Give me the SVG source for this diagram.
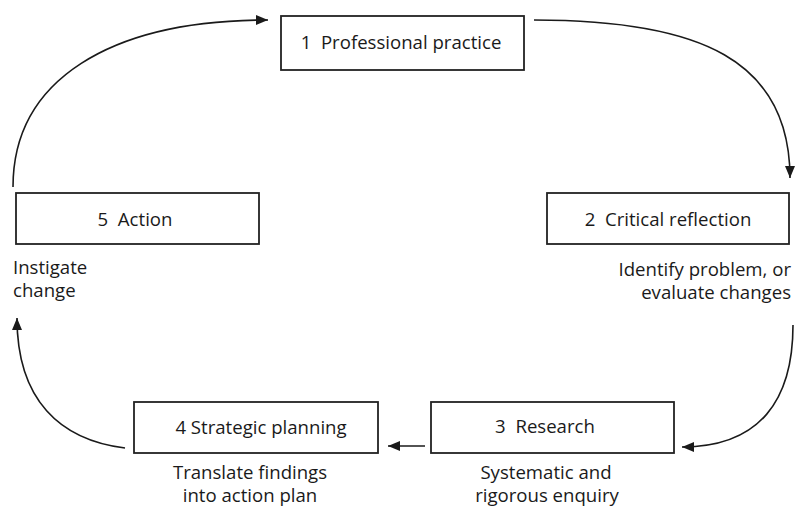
<svg xmlns="http://www.w3.org/2000/svg" width="795" height="508" viewBox="0 0 795 508">
<style>
.box{fill:#fff;stroke:#222;stroke-width:1.8}
.t{font-family:"Open Sans","Liberation Sans",sans-serif;font-size:18.6px;fill:#1a1a1a;white-space:pre}
.c{text-anchor:middle}
.r{text-anchor:end}
.conn{fill:none;stroke:#1a1a1a;stroke-width:1.6}
</style>
<defs>
<marker id="ah" viewBox="0 0 12 10" refX="12" refY="5" markerUnits="userSpaceOnUse" markerWidth="13" markerHeight="10" orient="auto">
<path d="M0,0 L12,5 L0,10 Z" fill="#1a1a1a"/>
</marker>
</defs>
<rect width="795" height="508" fill="#fff"/>
<g id="connectors">
<path class="conn" d="M13,187 C13,80 110,20 268,20" marker-end="url(#ah)"/>
<path class="conn" d="M534,20 C700,20 790,60 790,178" marker-end="url(#ah)"/>
<path class="conn" d="M793,325 C793,400 760,447 682,447" marker-end="url(#ah)"/>
<path class="conn" d="M425,446 L388,446" marker-end="url(#ah)"/>
<path class="conn" d="M125,448 C60,440 17,400 17,318" marker-end="url(#ah)"/>
</g>
<g id="node1">
<rect class="box" x="281" y="16" width="243" height="54"/>
<text class="t c" x="401" y="49" xml:space="preserve">1  Professional practice</text>
</g>
<g id="node2">
<rect class="box" x="547" y="193" width="242" height="51"/>
<text class="t c" x="668" y="226" xml:space="preserve">2  Critical reflection</text>
<text class="t r" x="791" y="276">Identify problem, or</text>
<text class="t r" x="791" y="299">evaluate changes</text>
</g>
<g id="node3">
<rect class="box" x="431" y="402" width="243" height="51"/>
<text class="t c" x="545" y="433" xml:space="preserve">3  Research</text>
<text class="t c" x="546" y="479">Systematic and</text>
<text class="t c" x="547" y="502">rigorous enquiry</text>
</g>
<g id="node4">
<rect class="box" x="134" y="402" width="244" height="51"/>
<text class="t c" x="261" y="434">4 Strategic planning</text>
<text class="t c" x="250" y="479">Translate findings</text>
<text class="t c" x="250" y="502">into action plan</text>
</g>
<g id="node5">
<rect class="box" x="16" y="193" width="243" height="51"/>
<text class="t c" x="135" y="226" xml:space="preserve">5  Action</text>
<text class="t" x="13" y="274">Instigate</text>
<text class="t" x="13" y="297">change</text>
</g>
</svg>
